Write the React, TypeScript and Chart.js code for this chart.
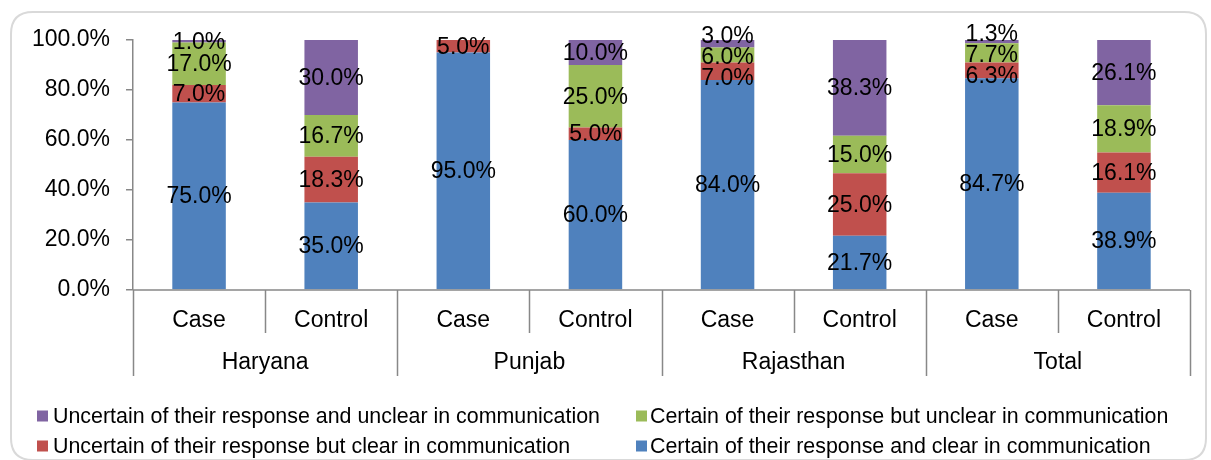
import React, { useEffect, useRef } from "react";
import { Chart, registerables } from "chart.js";

Chart.register(...registerables);

const categories = ["Case", "Control", "Case", "Control", "Case", "Control", "Case", "Control"];
const groups = ["Haryana", "Punjab", "Rajasthan", "Total"];
const yTicks = [0, 20, 40, 60, 80, 100];

const certainClear = [75.0, 35.0, 95.0, 60.0, 84.0, 21.7, 84.7, 38.9];
const uncertainClear = [7.0, 18.3, 5.0, 5.0, 7.0, 25.0, 6.3, 16.1];
const certainUnclear = [17.0, 16.7, 0, 25.0, 6.0, 15.0, 7.7, 18.9];
const uncertainUnclear = [1.0, 30.0, 0, 10.0, 3.0, 38.3, 1.3, 26.1];

const seriesNames = [
  "Certain of their response and clear in communication",
  "Uncertain of their response but clear in communication",
  "Certain of their response but unclear in communication",
  "Uncertain of their response and unclear in communication",
];
const seriesColors = ["#4F81BD", "#C0504D", "#9BBB59", "#8064A2"];

const FONT = "'Liberation Sans', Arial, sans-serif";
const AXIS_COLOR = "#888888";

const framePlugin = {
  id: "frame",
  beforeDraw(chart: any) {
    const ctx = chart.ctx;
    ctx.save();
    ctx.fillStyle = "#ffffff";
    ctx.fillRect(0, 0, chart.width, chart.height);
    const x = 11, y = 12, w = 1195, h = 448, r = 22;
    ctx.beginPath();
    ctx.moveTo(x + r, y);
    ctx.lineTo(x + w - r, y);
    ctx.quadraticCurveTo(x + w, y, x + w, y + r);
    ctx.lineTo(x + w, y + h - r);
    ctx.quadraticCurveTo(x + w, y + h, x + w - r, y + h);
    ctx.lineTo(x + r, y + h);
    ctx.quadraticCurveTo(x, y + h, x, y + h - r);
    ctx.lineTo(x, y + r);
    ctx.quadraticCurveTo(x, y, x + r, y);
    ctx.closePath();
    ctx.strokeStyle = "#d9d9d9";
    ctx.lineWidth = 2;
    ctx.stroke();
    ctx.restore();
  },
};

const labelsPlugin = {
  id: "barLabels",
  afterDatasetsDraw(chart: any) {
    const ctx = chart.ctx;
    ctx.save();
    ctx.font = `23px ${FONT}`;
    ctx.fillStyle = "#000000";
    ctx.textAlign = "center";
    ctx.textBaseline = "middle";
    const n = chart.data.labels.length;
    for (let i = 0; i < n; i++) {
      const items: { x: number; y: number; text: string }[] = [];
      chart.data.datasets.forEach((ds: any, di: number) => {
        const v = ds.data[i];
        if (!v) return;
        const bar = chart.getDatasetMeta(di).data[i];
        items.push({ x: bar.x, y: (bar.y + bar.base) / 2, text: v.toFixed(1) + "%" });
      });
      // resolve overlaps (items ordered bottom to top => y decreasing)
      const G = 21;
      for (let it = 0; it < 100; it++) {
        for (let k = 0; k + 1 < items.length; k++) {
          const gap = items[k].y - items[k + 1].y;
          if (gap < G) {
            const d = (G - gap) / 2;
            items[k].y += d;
            items[k + 1].y -= d;
          }
        }
      }
      items.forEach((o) => ctx.fillText(o.text, o.x, o.y + 1));
    }
    ctx.restore();
  },
};

const xAxisPlugin = {
  id: "multiAxis",
  afterDraw(chart: any) {
    const ctx = chart.ctx;
    const a = chart.chartArea;
    const n = categories.length;
    const w = (a.right - a.left) / n;
    ctx.save();
    ctx.strokeStyle = AXIS_COLOR;
    ctx.lineWidth = 1.5;
    ctx.beginPath();
    ctx.moveTo(a.left, a.bottom);
    ctx.lineTo(a.right, a.bottom);
    for (let i = 0; i <= n; i++) {
      const x = Math.round(a.left + i * w) + 0.5;
      ctx.moveTo(x, a.bottom);
      ctx.lineTo(x, a.bottom + (i % 2 === 0 ? 86 : 43));
    }
    ctx.stroke();
    ctx.fillStyle = "#000000";
    ctx.font = `23px ${FONT}`;
    ctx.textAlign = "center";
    ctx.textBaseline = "middle";
    categories.forEach((c, i) => {
      ctx.fillText(c, a.left + (i + 0.5) * w, a.bottom + 31);
    });
    groups.forEach((g, i) => {
      ctx.fillText(g, a.left + (i * 2 + 1) * w, a.bottom + 73);
    });

    // legend
    const order = [3, 2, 1, 0];
    const pos = [
      { mx: 37, tx: 53, y: 416 },
      { mx: 636, tx: 650, y: 416 },
      { mx: 37, tx: 53, y: 446 },
      { mx: 636, tx: 650, y: 446 },
    ];
    ctx.font = `21.4px ${FONT}`;
    ctx.textAlign = "left";
    order.forEach((si, k) => {
      const p = pos[k];
      ctx.fillStyle = seriesColors[si];
      ctx.fillRect(p.mx, p.y - 5.5, 11, 11);
      ctx.fillStyle = "#000000";
      ctx.fillText(seriesNames[si], p.tx, p.y + 1);
    });
    ctx.restore();
  },
};

export default function App() {
  const ref = useRef<HTMLCanvasElement | null>(null);
  useEffect(() => {
    if (!ref.current) return;
    const data = [certainClear, uncertainClear, certainUnclear, uncertainUnclear];
    const chart = new Chart(ref.current, {
      type: "bar",
      data: {
        labels: categories,
        datasets: data.map((d, i) => ({
          label: seriesNames[i],
          data: d,
          backgroundColor: seriesColors[i],
          borderWidth: 0,
          categoryPercentage: 0.405,
          barPercentage: 1,
        })),
      },
      options: {
        responsive: false,
        animation: false,
        events: [],
        layout: { padding: { top: 40, bottom: 170, left: 0, right: 21 } },
        plugins: { legend: { display: false }, tooltip: { enabled: false } },
        scales: {
          x: { stacked: true, display: false },
          y: {
            stacked: true,
            min: 0,
            max: 100,
            afterFit: (s: any) => {
              s.width = 133;
            },
            afterBuildTicks: (s: any) => {
              s.ticks = yTicks.map((v) => ({ value: v }));
            },
            ticks: {
              padding: 16,
              color: "#000000",
              font: { family: FONT, size: 23 },
              callback: (v: any) => Number(v).toFixed(1) + "%",
            },
            grid: {
              drawOnChartArea: false,
              drawTicks: true,
              tickLength: 7,
              color: AXIS_COLOR,
              lineWidth: 1.5,
            },
            border: { display: true, color: AXIS_COLOR, width: 1.5 },
          },
        },
      },
      plugins: [framePlugin, labelsPlugin, xAxisPlugin],
    });
    return () => chart.destroy();
  }, []);
  return (
    <div style={{ position: "absolute", left: 0, top: 0, width: 1211, height: 460 }}>
      <canvas ref={ref} width={1211} height={460} style={{ width: 1211, height: 460 }} />
    </div>
  );
}
